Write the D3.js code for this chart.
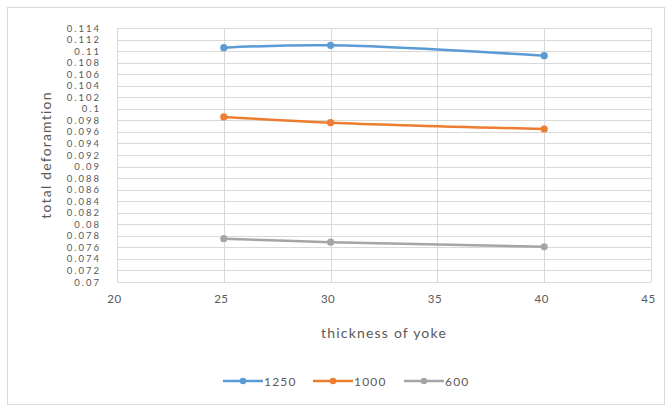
<!DOCTYPE html>
<html>
<head>
<meta charset="utf-8">
<script src="https://cdn.jsdelivr.net/npm/d3@7"></script>
<style>
  html, body { margin: 0; padding: 0; background: #fff; }
  svg { display: block; }
  text { font-family: Lato, "Open Sans", "Liberation Sans", sans-serif; fill: #595959; }
</style>
</head>
<body>
<svg id="chart" width="672" height="411"></svg>
<script>
// Thickness of yoke (x) and total deformation for each load case
const thickness = [25, 30, 40];
const series1250 = [0.1106, 0.1110, 0.1092];
const series1000 = [0.0986, 0.0976, 0.0965];
const series600 = [0.0775, 0.0769, 0.0761];
const seriesNames = ["1250", "1000", "600"];
const seriesColors = ["#5B9BD5", "#ED7D31", "#A5A5A5"];
const xTicks = [20, 25, 30, 35, 40, 45];
const yTicks = d3.range(0, 23).map(i => +(0.07 + i * 0.002).toFixed(3));

const svg = d3.select("#chart");
const W = 672, H = 411;

// outer chart frame
svg.append("rect")
  .attr("x", 7.5).attr("y", 7.5)
  .attr("width", W - 15).attr("height", H - 14)
  .attr("fill", "#fff").attr("stroke", "#d9d9d9").attr("stroke-width", 1);

const plot = { left: 117, right: 651, top: 28, bottom: 282 };

const x = d3.scaleLinear().domain([20, 45]).range([plot.left, plot.right]);
const y = d3.scaleLinear().domain([0.07, 0.114]).range([plot.bottom, plot.top]);

// horizontal gridlines
svg.append("g")
  .selectAll("line")
  .data(yTicks)
  .join("line")
  .attr("x1", plot.left).attr("x2", plot.right)
  .attr("y1", d => Math.round(y(d)) + 0.5).attr("y2", d => Math.round(y(d)) + 0.5)
  .attr("stroke", "#d9d9d9").attr("stroke-width", 1);

// vertical gridlines
svg.append("g")
  .selectAll("line")
  .data(xTicks)
  .join("line")
  .attr("x1", d => Math.round(x(d)) + 0.5).attr("x2", d => Math.round(x(d)) + 0.5)
  .attr("y1", plot.top).attr("y2", plot.bottom)
  .attr("stroke", "#d9d9d9").attr("stroke-width", 1);

// y axis labels (tightly packed, one per 0.002)
const yAxis = d3.axisLeft(y).tickValues(yTicks).tickSize(0).tickPadding(0)
  .tickFormat(d => String(+d.toFixed(3)));
const gy = svg.append("g").attr("transform", `translate(${plot.left - 16},0)`).call(yAxis);
gy.select(".domain").remove();
gy.selectAll("text").attr("font-size", "9.5px").style("fill", "#595959")
  .style("letter-spacing", "2px")
  .style("font-family", "Lato, 'Open Sans', sans-serif");

// x axis labels
const xAxis = d3.axisBottom(x).tickValues(xTicks).tickSize(0).tickPadding(0);
const gx = svg.append("g").attr("transform", `translate(-3,${plot.bottom + 13})`).call(xAxis);
gx.select(".domain").remove();
gx.selectAll("text").attr("font-size", "11.5px").style("fill", "#595959")
  .style("letter-spacing", "0.5px")
  .style("font-family", "Lato, 'Open Sans', sans-serif");

// axis titles
svg.append("text")
  .attr("x", 384).attr("y", 338)
  .attr("text-anchor", "middle").attr("font-size", "14px")
  .style("letter-spacing", "1.2px")
  .text("thickness of yoke");

svg.append("text")
  .attr("transform", `translate(51,${(plot.top + plot.bottom) / 2}) rotate(-90)`)
  .attr("text-anchor", "middle").attr("font-size", "14px")
  .style("letter-spacing", "1.2px")
  .text("total deforamtion");

// series lines with markers
const allSeries = [series1250, series1000, series600];
const line = d3.line()
  .x((d, i) => x(thickness[i]))
  .y(d => y(d))
  .curve(d3.curveCatmullRom.alpha(0.5));

allSeries.forEach((vals, k) => {
  svg.append("path")
    .datum(vals)
    .attr("d", line)
    .attr("fill", "none")
    .attr("stroke", seriesColors[k])
    .attr("stroke-width", 2.5)
    .attr("stroke-linecap", "round");
  svg.append("g")
    .selectAll("circle")
    .data(vals)
    .join("circle")
    .attr("cx", (d, i) => x(thickness[i]))
    .attr("cy", d => y(d))
    .attr("r", 3.6)
    .attr("fill", seriesColors[k]);
});

// legend
const legendX = [223, 313, 404];
const legend = svg.append("g").attr("transform", "translate(0,381)");
seriesNames.forEach((name, k) => {
  const g = legend.append("g").attr("transform", `translate(${legendX[k]},0)`);
  g.append("line").attr("x1", 0).attr("x2", 40).attr("y1", 0).attr("y2", 0)
    .attr("stroke", seriesColors[k]).attr("stroke-width", 2.5);
  g.append("circle").attr("cx", 20).attr("cy", 0).attr("r", 3.2).attr("fill", seriesColors[k]);
  g.append("text").attr("x", 41).attr("y", 4.5).attr("font-size", "12px")
    .style("letter-spacing", "1.2px").text(name);
});
</script>
</body>
</html>
